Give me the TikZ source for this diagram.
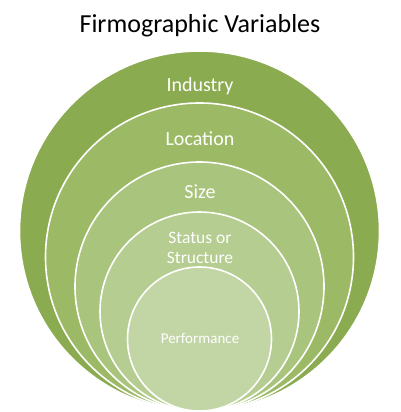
\documentclass[tikz,border=0pt]{standalone}
\usepackage{fontspec}
\setmainfont{Carlito}
\definecolor{ringA}{HTML}{8BAB50}
\definecolor{ringB}{HTML}{9CBA66}
\definecolor{ringC}{HTML}{A9C47C}
\definecolor{ringD}{HTML}{B5CD90}
\definecolor{ringE}{HTML}{C2D6A5}
\tikzset{
  ring/.style={circle,draw=white,line width=1.6pt,inner sep=0pt},
  ringlabel/.style={anchor=base,text=white,font=\fontsize{20}{24}\selectfont},
}
\begin{document}
\begin{tikzpicture}[x=1pt,y=-1pt]
                \useasboundingbox (0,0) rectangle (400,412);
                \node[anchor=base,font=\fontsize{26}{30}\selectfont] (title) at (200,33) {Firmographic Variables};
                \node[ring,fill=ringA,minimum size=360pt] (industry) at (199.5,231) {};
                \node[ring,fill=ringB,minimum size=308pt] (location) at (199.5,257) {};
                \node[ring,fill=ringC,minimum size=249pt] (size) at (199.5,286.5) {};
                \node[ring,fill=ringD,minimum size=199pt] (status) at (199.5,311.5) {};
                \node[ring,fill=ringE,minimum size=144pt] (performance) at (199.5,339) {};
                \node[ringlabel] (industrytext) at (200,92) {Industry};
                \node[ringlabel] (locationtext) at (200,145.5) {Location};
                \node[ringlabel] (sizetext) at (200,198) {Size};
                \node[ringlabel,font=\fontsize{17.5}{20}\selectfont] (statustext) at (200,243) {Status or};
                \node[ringlabel,font=\fontsize{17.5}{20}\selectfont] (structuretext) at (200,263) {Structure};
                \node[ringlabel,font=\fontsize{15}{18}\selectfont] (performancetext) at (200,343) {Performance};
            \end{tikzpicture}
\end{document}
